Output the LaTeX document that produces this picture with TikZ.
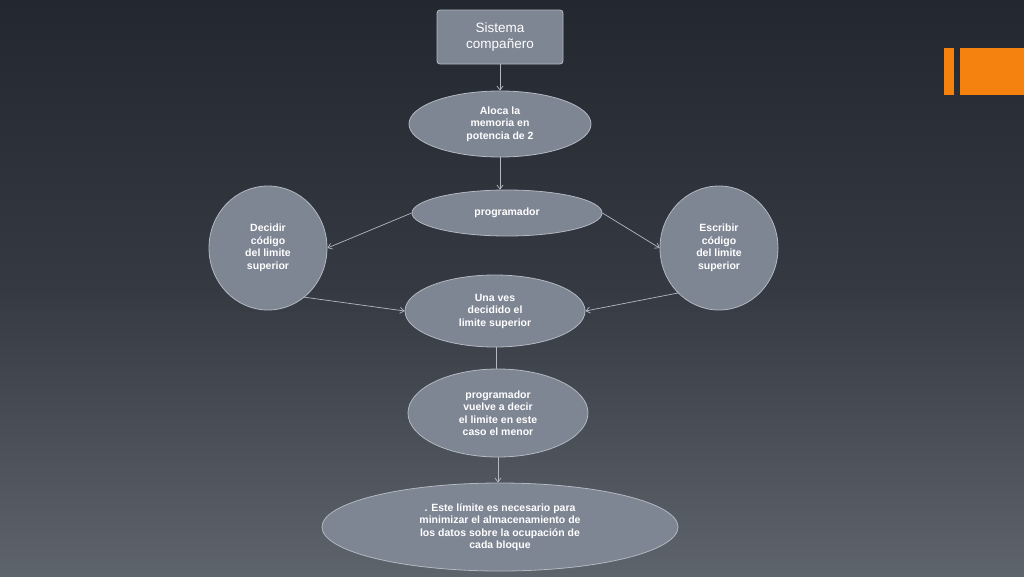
\documentclass[tikz,border=0pt]{standalone}
\usepackage{fontspec}
\setmainfont{Liberation Sans}
\usetikzlibrary{shapes.geometric,arrows.meta}
\definecolor{nodefill}{HTML}{7E8593}
\definecolor{nodeline}{HTML}{B4B9C1}
\definecolor{bgtop}{HTML}{232830}
\definecolor{bgbot}{HTML}{5E646C}
\definecolor{orng}{HTML}{F5820F}
\begin{document}
\begin{tikzpicture}[x=1pt,y=-1pt,
  ell/.style={ellipse,draw=nodeline,line width=0.8pt,fill=nodefill,text=white,font=\bfseries\fontsize{10.5}{12.5}\selectfont,align=center,inner sep=0pt},
  arr/.style={draw=nodeline,line width=0.7pt,-{Straight Barb[length=4pt,width=6pt]}}]
\useasboundingbox (0,0) rectangle (1024,576);
\shade[top color=bgtop,bottom color=bgbot,middle color=bgtop!70!bgbot] (0,0) rectangle (1024,576);
\fill[orng] (944,48) rectangle (954,95);
\fill[orng] (960,48) rectangle (1024,95);
\node[draw=nodeline,fill=nodefill,rounded corners=3pt,minimum width=126pt,minimum height=54pt,text=white,font=\fontsize{13.5}{16.5}\selectfont,align=center,line width=0.8pt] (sis) at (500,37) {Sistema\\compañero};
\node[ell,minimum width=182pt,minimum height=66pt] (alo) at (500,124) {Aloca la\\memoria en\\potencia de 2};
\node[ell,minimum width=190pt,minimum height=46pt] (pro) at (507,213) {\raisebox{2pt}{programador}};
\node[ell,minimum width=118pt,minimum height=124pt] (dec) at (268,248) {Decidir\\código\\del limite\\superior};
\node[ell,minimum width=118pt,minimum height=124pt] (esc) at (719,248) {Escribir\\código\\del limite\\superior};
\node[ell,minimum width=180pt,minimum height=72pt] (una) at (495,311) {Una ves\\decidido el\\limite superior};
\node[ell,minimum width=180pt,minimum height=88pt] (vue) at (498,413) {programador\\vuelve a decir\\el limite en este\\caso el menor};
\node[ell,minimum width=356pt,minimum height=88pt] (est) at (500,527) {. Este límite es necesario para\\minimizar el almacenamiento de\\los datos sobre la ocupación de\\cada bloque};
\draw[arr] (sis) -- (alo);
\draw[arr] (alo) -- (pro.north -| alo);
\draw[arr] (pro.west) -- (dec.east);
\draw[arr] (pro.east) -- (esc.west);
\draw[arr] (dec.south east) ++(-6,5) -- (una.west);
\draw[arr] (esc) ++(-41,45) -- (una.east);
\draw[draw=nodeline,line width=0.7pt] (una.south -| 496,0) -- (vue.north -| 496,0);
\draw[arr] (vue) ++(0,44) -- (est.north -| 498,0);
\end{tikzpicture}
\end{document}
